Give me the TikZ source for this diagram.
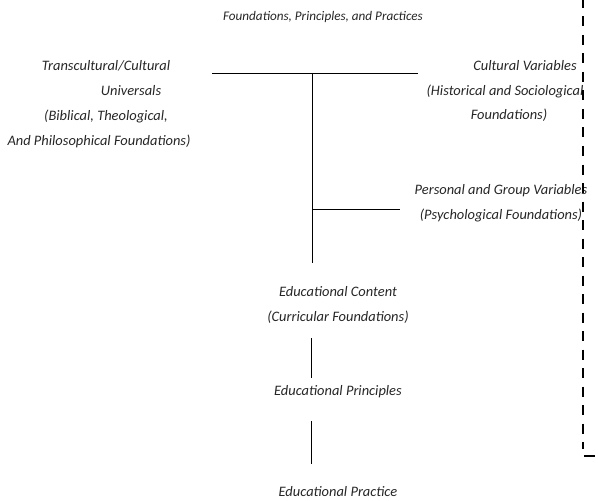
\documentclass[tikz,border=0pt]{standalone}
\usepackage{fontspec}
\setmainfont{Carlito}
\begin{document}
\begin{tikzpicture}[x=1bp,y=-1bp,
  lbl/.style={font=\fontsize{14.5}{25}\selectfont\itshape, inner sep=0pt, align=center, text=black!85},
  conn/.style={draw=black, line width=0.9bp},
  dashline/.style={draw=black, line width=2.4bp, dash pattern=on 10bp off 8.5bp}]
\useasboundingbox (0,0) rectangle (598,501);
\node[lbl, font=\fontsize{13.2}{25}\selectfont\itshape] (title) at (323,17) {Foundations, Principles, and Practices};
\node[lbl] (univ) at (106,104) {Transcultural/Cultural\\\hspace*{50bp}Universals\\(Biblical, Theological,\\\hspace*{-14bp}And Philosophical Foundations)};
\node[lbl] (cult) at (505,91) {\hspace*{40bp}Cultural Variables\\(Historical and Sociological\\\hspace*{8bp}Foundations)};
\node[lbl] (pers) at (501,203) {Personal and Group Variables\\(Psychological Foundations)};
\node[lbl] (cont) at (338,305) {Educational Content\\(Curricular Foundations)};
\node[lbl] (prin) at (338,392) {Educational Principles};
\node[lbl] (prac) at (338,492) {Educational Practice};
\coordinate (hl) at (212,73);
\coordinate (hr) at (418,73);
\coordinate (top) at (312,73);
\coordinate (bot) at (312,263);
\coordinate (br) at (312,209);
\coordinate (bre) at (400,209);
\draw[conn] (hl) -- (hr);
\draw[conn] (top) -- (bot);
\draw[conn] (br) -- (bre);
\coordinate (p1) at (311,338);
\coordinate (p2) at (311,378);
\coordinate (q1) at (311,421);
\coordinate (q2) at (311,464);
\draw[conn] (p1) -- (p2);
\draw[conn] (q1) -- (q2);
\coordinate (d0) at (583,-2);
\coordinate (d1) at (583,449);
\coordinate (t0) at (584,456);
\coordinate (t1) at (595,456);
\draw[dashline] (d0) -- (d1);
\draw[draw=black, line width=2.4bp] (t0) -- (t1);
\end{tikzpicture}
\end{document}
